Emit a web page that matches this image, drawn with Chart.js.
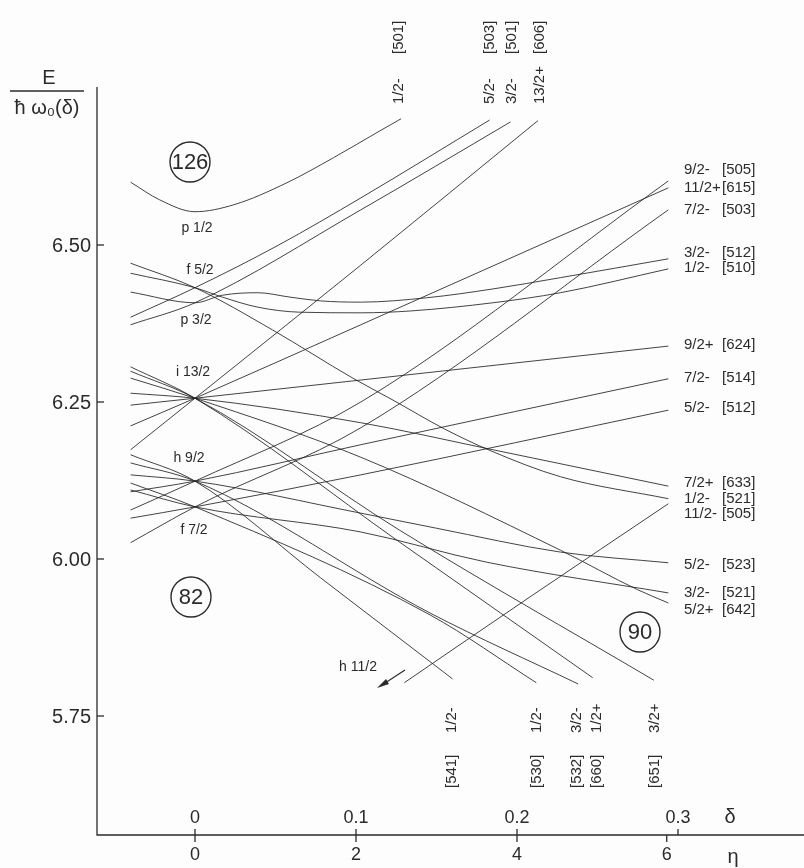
<!DOCTYPE html>
<html lang="en">
  <head>
    <meta charset="UTF-8" />
    <title>Nilsson levels 82-126</title>
    <style>
      body {
        margin: 0;
        background: #fdfdfd;
      }
      canvas {
        display: block;
      }
    </style>
  </head>
  <body>
    <canvas id="nilsson" width="804" height="868"></canvas>
    <script src="https://cdn.jsdelivr.net/npm/chart.js"></script>
    <script>
      // axis ticks
      const deltaTicks = [0, 0.1, 0.2, 0.3];
      const deltaTickLabels = ["0", "0.1", "0.2", "0.3"];
      const etaTickDelta = [0, 0.1, 0.2, 0.293];
      const etaTickLabels = ["0", "2", "4", "6"];
      const energyTicks = [5.75, 6.0, 6.25, 6.5];

      // levels, [delta, E / hw0(delta)]
      const p12_501 = [[-0.040, 6.600], [-0.022, 6.572], [0, 6.553], [0.024, 6.564], [0.057, 6.599], [0.086, 6.639], [0.115, 6.682], [0.128, 6.701]];
      const f52_503 = [[-0.040, 6.385], [0, 6.432], [0.052, 6.500], [0.103, 6.575], [0.183, 6.699]];
      const p32_501 = [[-0.040, 6.373], [0, 6.408], [0.103, 6.556], [0.196, 6.696]];
      const f52_521 = [[-0.040, 6.471], [0, 6.432], [0.048, 6.365], [0.098, 6.288], [0.123, 6.253], [0.155, 6.207], [0.184, 6.172], [0.227, 6.131], [0.294, 6.096]];
      const f52_510 = [[-0.040, 6.455], [0, 6.432], [0.017, 6.417], [0.039, 6.401], [0.065, 6.393], [0.103, 6.392], [0.134, 6.395], [0.185, 6.408], [0.227, 6.424], [0.294, 6.462]];
      const p32_512 = [[-0.040, 6.425], [0, 6.408], [0.017, 6.420], [0.039, 6.424], [0.059, 6.417], [0.078, 6.411], [0.103, 6.409], [0.144, 6.416], [0.185, 6.430], [0.227, 6.448], [0.294, 6.478]];

      const i132_606 = [[-0.040, 6.174], [0, 6.256], [0.103, 6.468], [0.213, 6.698]];
      const i132_615 = [[-0.040, 6.212], [0, 6.256], [0.103, 6.373], [0.294, 6.591]];
      const i132_624 = [[-0.040, 6.245], [0, 6.256], [0.103, 6.285], [0.294, 6.339]];
      const i132_633 = [[-0.040, 6.264], [0, 6.256], [0.103, 6.217], [0.185, 6.174], [0.294, 6.116]];
      const i132_642 = [[-0.040, 6.288], [0, 6.256], [0.103, 6.162], [0.227, 6.014], [0.275, 5.951], [0.294, 5.930]];
      const i132_651 = [[-0.040, 6.299], [0, 6.256], [0.127, 6.046], [0.285, 5.807]];
      const i132_660 = [[-0.040, 6.306], [0, 6.256], [0.127, 6.027], [0.247, 5.811]];

      const h92_505 = [[-0.040, 6.078], [0, 6.124], [0.103, 6.250], [0.294, 6.602]];
      const h92_514 = [[-0.040, 6.107], [0, 6.124], [0.103, 6.182], [0.294, 6.287]];
      const h92_523 = [[-0.040, 6.134], [0, 6.124], [0.103, 6.073], [0.150, 6.049], [0.227, 6.011], [0.294, 5.994]];
      const h92_532 = [[-0.040, 6.153], [0, 6.124], [0.146, 5.914], [0.238, 5.801]];
      const h92_541 = [[-0.040, 6.166], [0, 6.124], [0.078, 5.970], [0.160, 5.809]];

      const f72_503 = [[-0.040, 6.026], [0, 6.083], [0.103, 6.209], [0.294, 6.556]];
      const f72_512 = [[-0.040, 6.065], [0, 6.083], [0.103, 6.134], [0.294, 6.237]];
      const f72_521 = [[-0.040, 6.110], [0, 6.083], [0.103, 6.043], [0.181, 5.995], [0.294, 5.946]];
      const f72_530 = [[-0.040, 6.121], [0, 6.083], [0.146, 5.911], [0.212, 5.803]];

      const h112_505 = [[0.130, 5.803], [0.210, 5.943], [0.294, 6.088]];

      // end labels
      const rightK = ["9/2-", "11/2+", "7/2-", "3/2-", "1/2-", "9/2+", "7/2-", "5/2-", "7/2+", "1/2-", "11/2-", "5/2-", "3/2-", "5/2+"];
      const rightAsym = ["[505]", "[615]", "[503]", "[512]", "[510]", "[624]", "[514]", "[512]", "[633]", "[521]", "[505]", "[523]", "[521]", "[642]"];
      const topK = ["1/2-", "5/2-", "3/2-", "13/2+"];
      const topAsym = ["[501]", "[503]", "[501]", "[606]"];
      const bottomK = ["1/2-", "1/2-", "3/2-", "1/2+", "3/2+"];
      const bottomAsym = ["[541]", "[530]", "[532]", "[660]", "[651]"];
      const shellLabels = ["p 1/2", "f 5/2", "p 3/2", "i 13/2", "h 9/2", "f 7/2", "h 11/2"];
      const magicNumbers = ["126", "82", "90"];

      const levels = [
        p12_501, f52_503, p32_501, f52_521, f52_510, p32_512,
        i132_606, i132_615, i132_624, i132_633, i132_642, i132_651, i132_660,
        h92_505, h92_514, h92_523, h92_532, h92_541,
        f72_503, f72_512, f72_521, f72_530, h112_505,
      ];

      const ink = "#2b2b2b";
      const font = "'Liberation Sans', 'DejaVu Sans', sans-serif";

      // pixel places of the hand lettering
      const rightY = [170, 188, 210, 253, 268, 345, 378, 408, 483, 499, 514, 565, 593, 610];
      const topX = [399, 490, 512, 540];
      const bottomX = [452, 537, 577, 597, 655];
      const shellPos = [[197, 228], [200, 270], [196, 320], [193, 372], [189, 458], [194, 530], [358, 667]];
      const circlePos = [[190, 162], [191, 597], [640, 632]];

      function rotText(ctx, text, x, y) {
        ctx.save();
        ctx.translate(x, y);
        ctx.rotate(-Math.PI / 2);
        ctx.textAlign = "left";
        ctx.textBaseline = "middle";
        ctx.fillText(text, 0, 0);
        ctx.restore();
      }

      const decor = {
        id: "decor",
        beforeDraw(chart) {
          const ctx = chart.ctx;
          ctx.save();
          ctx.fillStyle = "#fdfdfd";
          ctx.fillRect(0, 0, chart.width, chart.height);
          ctx.restore();
        },
        afterDraw(chart) {
          const {
            ctx,
            chartArea: { left, right, top, bottom },
            scales: { x, y },
          } = chart;
          ctx.save();
          ctx.strokeStyle = ink;
          ctx.fillStyle = ink;
          ctx.lineWidth = 1.3;

          // axes
          ctx.beginPath();
          ctx.moveTo(left, top);
          ctx.lineTo(left, bottom);
          ctx.lineTo(right, bottom);
          ctx.stroke();

          ctx.font = "20px " + font;
          ctx.textAlign = "right";
          ctx.textBaseline = "middle";
          energyTicks.forEach((v) => {
            const py = y.getPixelForValue(v);
            ctx.beginPath();
            ctx.moveTo(left, py);
            ctx.lineTo(left + 7, py);
            ctx.stroke();
            ctx.fillText(v.toFixed(2), left - 6, py + 1);
          });

          ctx.font = "18px " + font;
          ctx.textAlign = "center";
          deltaTicks.forEach((v, i) => {
            const px = x.getPixelForValue(v);
            ctx.beginPath();
            ctx.moveTo(px, bottom);
            ctx.lineTo(px, bottom - 6);
            ctx.stroke();
            ctx.fillText(deltaTickLabels[i], px, bottom - 17);
          });
          etaTickDelta.forEach((v, i) => {
            const px = x.getPixelForValue(v);
            ctx.beginPath();
            ctx.moveTo(px, bottom);
            ctx.lineTo(px, bottom + 7);
            ctx.stroke();
            ctx.fillText(etaTickLabels[i], px, bottom + 20);
          });
          ctx.font = "20px " + font;
          ctx.fillText("δ", 730, bottom - 18);
          ctx.fillText("η", 733, bottom + 22);

          // y title
          ctx.font = "20px " + font;
          ctx.fillText("E", 49, 78);
          ctx.beginPath();
          ctx.moveTo(10, 91);
          ctx.lineTo(84, 91);
          ctx.stroke();
          ctx.fillText("ħ ω₀(δ)", 47, 108);

          // end labels
          ctx.font = "15px " + font;
          ctx.textAlign = "left";
          rightK.forEach((k, i) => {
            ctx.fillText(k, 684, rightY[i]);
            ctx.fillText(rightAsym[i], 722, rightY[i]);
          });
          topK.forEach((k, i) => {
            rotText(ctx, k, topX[i], 104);
            rotText(ctx, topAsym[i], topX[i], 54);
          });
          bottomK.forEach((k, i) => {
            rotText(ctx, bottomAsym[i], bottomX[i], 788);
            rotText(ctx, k, bottomX[i], 733);
          });

          // shell labels
          ctx.font = "14px " + font;
          ctx.textAlign = "center";
          shellLabels.forEach((s, i) => {
            ctx.fillText(s, shellPos[i][0], shellPos[i][1]);
          });

          // magic numbers
          ctx.font = "22px " + font;
          ctx.lineWidth = 1.4;
          magicNumbers.forEach((m, i) => {
            const [cx, cy] = circlePos[i];
            ctx.beginPath();
            ctx.arc(cx, cy, 20, 0, Math.PI * 2);
            ctx.stroke();
            ctx.fillText(m, cx, cy + 1);
          });

          // h 11/2 arrow
          ctx.lineWidth = 1.2;
          ctx.beginPath();
          ctx.moveTo(405, 670);
          ctx.lineTo(382, 685);
          ctx.stroke();
          ctx.beginPath();
          ctx.moveTo(377, 688);
          ctx.lineTo(386, 679);
          ctx.lineTo(389, 684);
          ctx.closePath();
          ctx.fill();

          ctx.restore();
        },
      };

      const ctx = document.getElementById("nilsson");
      const myChart = new Chart(ctx, {
        type: "scatter",
        data: {
          datasets: levels.map((lv) => ({
            data: lv.map((p) => ({ x: p[0], y: p[1] })),
            showLine: true,
            borderColor: "rgba(35,35,35,0.85)",
            borderWidth: 1,
            pointRadius: 0,
            cubicInterpolationMode: "monotone",
          })),
        },
        options: {
          responsive: false,
          animation: false,
          devicePixelRatio: 1,
          layout: { padding: { left: 97, right: 0, top: 87, bottom: 33 } },
          plugins: { legend: { display: false }, tooltip: { enabled: false } },
          scales: {
            x: { type: "linear", display: false, min: -0.06087, max: 0.378261 },
            y: { type: "linear", display: false, min: 5.56051, max: 6.75159 },
          },
        },
        plugins: [decor],
      });
    </script>
  </body>
</html>
